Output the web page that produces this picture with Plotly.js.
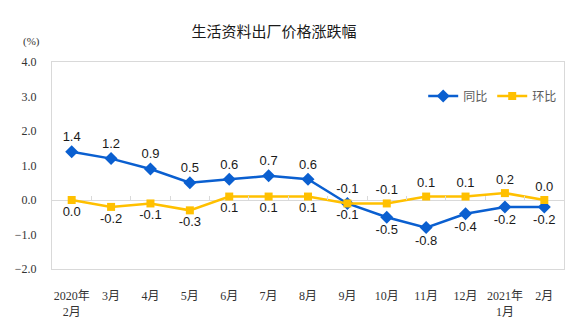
<!DOCTYPE html>
<html>
<head>
<meta charset="utf-8">
<script src="https://cdn.plot.ly/plotly-3.0.1.min.js"></script>
<style>html,body{margin:0;padding:0;background:#fff;}#chart{width:575px;height:321px;}</style>
</head>
<body>
<div id="chart"></div>
<script>
const categories = ["2020年<br>2月","3月","4月","5月","6月","7月","8月","9月","10月","11月","12月","2021年<br>1月","2月"];
const yoy = [1.4,1.2,0.9,0.5,0.6,0.7,0.6,-0.1,-0.5,-0.8,-0.4,-0.2,-0.2];
const mom = [0.0,-0.2,-0.1,-0.3,0.1,0.1,0.1,-0.1,-0.1,0.1,0.1,0.2,0.0];
const yoyName = "同比";
const momName = "环比";
const titleText = "生活资料出厂价格涨跌幅";

const yoyPos = yoy.map((v,i)=> i<=7 ? "top center" : "bottom center");
const momPos = mom.map((v,i)=> i<=7 ? "bottom center" : "top center");

const traces = [
  {x: categories, y: yoy, name: yoyName, type: "scatter", mode: "lines+markers+text",
   line: {color: "#0a5fd0", width: 2.5}, marker: {symbol: "diamond", size: 10, color: "#0a5fd0"},
   text: yoy.map(v=>v.toFixed(1)), textposition: yoyPos,
   textfont: {family: "Liberation Sans, Arial, sans-serif", size: 13, color: "#1a1a1a"}, cliponaxis: false},
  {x: categories, y: mom, name: momName, type: "scatter", mode: "lines+markers+text",
   line: {color: "#ffc000", width: 2.5}, marker: {symbol: "square", size: 8, color: "#ffc000"},
   text: mom.map(v=>v.toFixed(1)), textposition: momPos,
   textfont: {family: "Liberation Sans, Arial, sans-serif", size: 13, color: "#1a1a1a"}, cliponaxis: false},
  {x: categories, y: mom, xaxis: "x2", type: "scatter", mode: "none", showlegend: false, hoverinfo: "skip"}
];

const layout = {
  width: 575, height: 321,
  margin: {l: 52, r: 11, t: 62, b: 52},
  paper_bgcolor: "#fff", plot_bgcolor: "#fff",
  title: {text: titleText, x: 274/575, xanchor: "center", y: 1-32/321, yanchor: "middle",
          font: {family: "Noto Sans CJK SC, sans-serif", size: 15, color: "#1a1a1a"}},
  showlegend: true,
  legend: {orientation: "h", x: 0.725, xanchor: "left", y: 0.836, yanchor: "middle",
           font: {family: "Noto Sans CJK SC, sans-serif", size: 12, color: "#595959"},
           bgcolor: "rgba(0,0,0,0)", itemwidth: 30, tracegroupgap: 0},
  xaxis: {type: "category", range: [-0.5, 12.5], showgrid: false, zeroline: false,
          showline: true, mirror: true, linecolor: "#d9d9d9", linewidth: 1,
          ticks: "", ticklabelstandoff: 16,
          tickfont: {family: "Liberation Serif, Noto Sans CJK SC, serif", size: 12, color: "#333"}},
  xaxis2: {type: "category", overlaying: "x", anchor: "free", position: 1/3, side: "bottom",
           range: [-0.5, 12.5], showgrid: false, zeroline: false, showline: false,
           ticks: "inside", tickson: "boundaries", ticklen: 4, tickcolor: "#d9d9d9",
           showticklabels: false, matches: "x"},
  yaxis: {range: [-2, 4], dtick: 1, tick0: 0, tickformat: ".1f", showgrid: false,
          zeroline: true, zerolinecolor: "#d9d9d9", zerolinewidth: 1,
          showline: true, mirror: true, linecolor: "#d9d9d9", linewidth: 1,
          ticks: "", ticklabelstandoff: 12,
          tickfont: {family: "Liberation Serif, Times New Roman, serif", size: 12, color: "#333"}},
  annotations: [{text: "(%)", xref: "paper", yref: "paper", x: (31-52)/512, xanchor: "center",
                 y: (269-41)/207, yanchor: "middle", showarrow: false,
                 font: {family: "Liberation Serif, serif", size: 11, color: "#333"}}]
};

Plotly.newPlot("chart", traces, layout, {displayModeBar: false, staticPlot: true});
</script>
</body>
</html>
